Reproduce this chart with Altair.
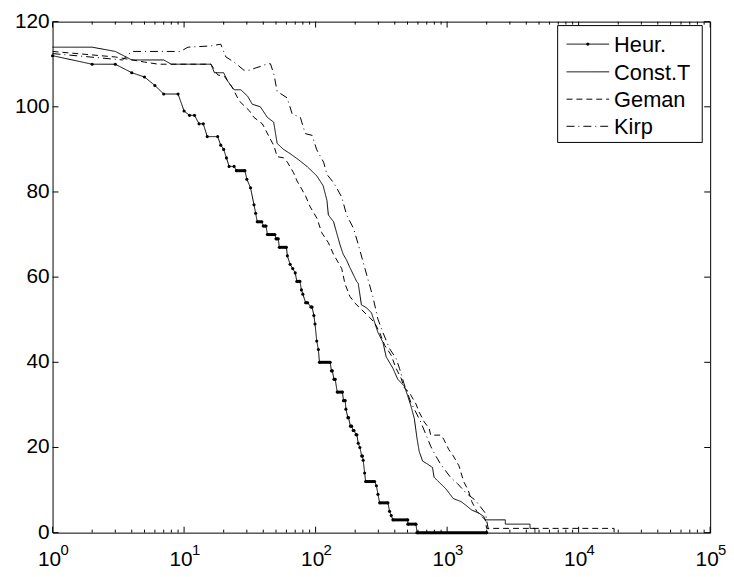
import altair as alt
import pandas as pd

# ---------------- data ----------------
series_names = ["Heur.", "Const.T", "Geman", "Kirp"]

# Heur.: runs of constant value (start time, end time, level)
heur_t0 = [1, 2, 4, 5, 6, 7, 10, 11, 13, 15, 19, 20, 21, 22, 25, 30, 32, 34, 35, 36,
           40, 43, 50, 53, 61, 64, 67, 70, 72, 78, 80, 84, 92, 97, 99, 102, 105, 107, 132, 138,
           146, 163, 170, 176, 184, 193, 203, 211, 217, 224, 230, 236, 240, 290, 298, 307, 365, 376, 387, 503,
           590]
heur_t1 = [1, 3, 4, 5, 6, 9, 10, 12, 14, 18, 19, 20, 21, 24, 29, 30, 32, 34, 35, 39,
           42, 49, 52, 60, 61, 64, 67, 70, 76, 78, 80, 87, 94, 97, 99, 102, 105, 129, 134, 141,
           160, 168, 170, 178, 188, 196, 206, 211, 217, 227, 230, 236, 281, 290, 298, 355, 365, 376, 502, 580,
           2000]
heur_y = [112, 110, 108, 107, 105, 103, 99, 98, 96, 93, 91, 90, 88, 86, 85, 83, 81, 77, 75, 73,
          72, 70, 69, 67, 65, 63, 62, 61, 59, 57, 56, 54, 53, 51, 49, 45, 43, 40, 38, 36,
          33, 31, 29, 27, 25, 24, 23, 21, 20, 18, 17, 14, 12, 11, 9, 7, 5, 4, 3, 2,
          0]

const_t = [1, 2, 3, 4, 7, 8, 16, 17, 20, 21.5, 24, 27, 30.4, 33, 38, 43, 48, 51, 57, 64,
           74, 86, 102, 114, 122, 125, 137, 153, 162, 172, 182, 205, 211, 223, 244, 266, 298, 325, 344, 387,
           422, 473, 502, 530, 563, 590, 613, 651, 710, 774, 796, 892, 977, 1115, 1275, 1380, 1540, 1740, 1900, 1950,
           2770, 2770, 4270, 4270, 4650, 4650]
const_y = [114, 114, 113, 111, 111, 110, 110, 108, 108, 106, 104, 104, 102.5, 100.6, 100, 97.5, 96.4, 91.4, 90, 89,
           87.6, 86, 83.8, 81.5, 78, 74.6, 73, 67.7, 65.4, 64, 62.3, 59, 58.5, 53.5, 52.8, 51.6, 47, 44.7, 41.3, 38.6,
           36, 34.4, 32.1, 29.8, 26.8, 22.2, 19.1, 16.8, 16.1, 15.3, 13, 11.5, 10.3, 8, 7.3, 6.5, 5.3, 4.6, 3.8, 3,
           3, 2, 2, 1, 1, 0]

geman_t = [1, 3, 5, 6.4, 16, 18, 20.3, 23.4, 26.2, 31.3, 34, 39.4, 44.4, 48.3, 51, 57.2, 61, 68, 72.2, 83.5,
           91, 102.4, 111.5, 125, 136.6, 158, 167, 182, 199, 258, 281, 307, 335, 375, 409, 446, 473, 516, 580, 613,
           670, 730, 750, 900, 947, 1030, 1115, 1230, 1340, 1450, 1540, 1680, 1950, 1995, 18600, 18600]
geman_y = [113, 111.7, 110.5, 110, 110, 107.5, 107.1, 104.4, 101.4, 99.1, 97.5, 96, 92.9, 90.8, 88.3, 88, 87, 84.5, 82.6, 79.2,
           76.5, 73.8, 70.4, 68.1, 65.4, 62, 58.5, 55.5, 53.9, 50.5, 49.3, 47, 44, 41.7, 38.6, 36.3, 34, 32.9, 30.2, 28.3,
           26, 24.5, 22.9, 22.9, 21.8, 19.5, 18, 15.7, 11.9, 9.9, 7.3, 5, 3, 1, 1, 0]

kirp_t = [1, 3.4, 4, 9.4, 10.7, 16, 19, 20.8, 24, 28.5, 32.2, 34, 38.3, 43, 45.4, 48.3, 51, 60.8, 66.4, 76.6,
          83.5, 94, 102, 115, 122, 137, 158, 172, 194, 211, 230, 251, 272, 298, 325, 365, 409, 434, 470, 530,
          630, 750, 820, 892, 1060, 1200, 1405, 1640, 1790, 1950, 1995, 2050, 2100]
kirp_y = [112.5, 111, 113, 113, 114, 114.3, 114.7, 111.7, 110.5, 108.6, 108.6, 109, 109.5, 110.1, 110.1, 107.5, 103.6, 102.1, 98.3, 97.5,
          93.7, 93.3, 89.9, 87, 84.1, 82.2, 78.8, 74.6, 71.5, 67.7, 63.5, 59.3, 55.5, 50.1, 47, 43.2, 40.9, 38.6, 35, 30.6,
          26, 20.3, 18, 16.1, 13, 11.5, 9.2, 7.6, 6.1, 4.6, 3, 1, 0]

y_ticks = [0, 20, 40, 60, 80, 100, 120]
y_labels = ["0", "20", "40", "60", "80", "100", "120"]
x_major = [1, 10, 100, 1000, 10000, 100000]
x_exp = ["0", "1", "2", "3", "4", "5"]
x_minor = [m * 10 ** d for d in range(5) for m in range(2, 10)]

# ---------------- build tables ----------------
W, H = 664, 516
TOP = 11
FONT = "Liberation Sans"

heur_vx, heur_vy = [], []
for a, b, v in zip(heur_t0, heur_t1, heur_y):
    heur_vx.append(a); heur_vy.append(v)
    if b > a:
        heur_vx.append(b); heur_vy.append(v)

frames = []
for name, xs_, ys_ in [("Heur.", heur_vx, heur_vy), ("Const.T", const_t, const_y),
                       ("Geman", geman_t, geman_y), ("Kirp", kirp_t, kirp_y)]:
    frames.append(pd.DataFrame({"series": name, "t": xs_, "y": ys_, "i": range(len(xs_))}))
line_df = pd.concat(frames, ignore_index=True)

dots_df = pd.DataFrame({"t": heur_vx, "y": heur_vy})
runs_df = pd.DataFrame({"t0": heur_t0, "t1": heur_t1, "y": heur_y})
runs_df = runs_df[(runs_df.t0 >= 25) & (runs_df.t1 > runs_df.t0)]

xs = alt.Scale(type="log", domain=[1, 100000], nice=False)
ys = alt.Scale(domain=[0, 120], nice=False)

dash_range = [[1, 0], [1, 0], [6, 4], [8, 4, 1, 4]]

lines = alt.Chart(line_df).mark_line(color="black", strokeWidth=1).encode(
    x=alt.X("t:Q", scale=xs, axis=None),
    y=alt.Y("y:Q", scale=ys, axis=None),
    strokeDash=alt.StrokeDash("series:N", scale=alt.Scale(domain=series_names, range=dash_range), legend=None),
    detail="series:N",
    order="i:Q",
)

runs = alt.Chart(runs_df).mark_rule(color="black", strokeWidth=3).encode(
    x=alt.X("t0:Q", scale=xs, axis=None), x2="t1:Q",
    y=alt.Y("y:Q", scale=ys, axis=None),
)

dots = alt.Chart(dots_df).mark_circle(color="black", size=10, opacity=1).encode(
    x=alt.X("t:Q", scale=xs, axis=None),
    y=alt.Y("y:Q", scale=ys, axis=None),
)

ytk = pd.DataFrame({"v": y_ticks, "lab": y_labels})
xmaj = pd.DataFrame({"v": x_major, "base": ["10"] * len(x_major), "e": x_exp})
xmin = pd.DataFrame({"v": x_minor})

tick_layers = [
    alt.Chart(ytk).mark_rule(color="black").encode(y=alt.Y("v:Q", scale=ys, axis=None), x=alt.value(0), x2=alt.value(6)),
    alt.Chart(ytk).mark_rule(color="black").encode(y=alt.Y("v:Q", scale=ys, axis=None), x=alt.value(W - 6), x2=alt.value(W)),
    alt.Chart(xmaj).mark_rule(color="black").encode(x=alt.X("v:Q", scale=xs, axis=None), y=alt.value(H), y2=alt.value(H - 6)),
    alt.Chart(xmaj).mark_rule(color="black").encode(x=alt.X("v:Q", scale=xs, axis=None), y=alt.value(0), y2=alt.value(6)),
    alt.Chart(xmin).mark_rule(color="black").encode(x=alt.X("v:Q", scale=xs, axis=None), y=alt.value(H), y2=alt.value(H - 3)),
    alt.Chart(xmin).mark_rule(color="black").encode(x=alt.X("v:Q", scale=xs, axis=None), y=alt.value(0), y2=alt.value(3)),
]

ylab = alt.Chart(ytk).mark_text(align="right", baseline="middle", fontSize=21, font=FONT,
                                color="black").encode(
    y=alt.Y("v:Q", scale=ys, axis=None), x=alt.value(-3), text="lab:N")
xbase = alt.Chart(xmaj).mark_text(align="center", baseline="alphabetic", fontSize=21, font=FONT,
                                  color="black", dx=-3).encode(
    x=alt.X("v:Q", scale=xs, axis=None), y=alt.value(H + 34), text="base:N")
xexp = alt.Chart(xmaj).mark_text(align="left", baseline="alphabetic", fontSize=15, font=FONT,
                                 color="black", dx=8).encode(
    x=alt.X("v:Q", scale=xs, axis=None), y=alt.value(H + 23), text="e:N")

# legend box drawn by hand
one = pd.DataFrame({"k": [0]})
legend_layers = [
    alt.Chart(one).mark_rect(fill="white", stroke="black", strokeWidth=1).encode(
        x=alt.value(510), x2=alt.value(656), y=alt.value(4), y2=alt.value(122))
]
row_y = [22.7, 50.7, 78.3, 105.7]
for name, ry, dash in zip(series_names, row_y, dash_range):
    ldf = pd.DataFrame({"name": [name]})
    legend_layers.append(alt.Chart(ldf).mark_rule(color="black", strokeWidth=1, strokeDash=dash).encode(
        x=alt.value(519), x2=alt.value(562), y=alt.value(ry)))
    legend_layers.append(alt.Chart(ldf).mark_text(align="left", baseline="middle", fontSize=22, font=FONT,
                                                  color="black").encode(
        x=alt.value(567), y=alt.value(ry + 1), text="name:N"))
legend_layers.append(alt.Chart(one).mark_circle(color="black", size=10, opacity=1).encode(
    x=alt.value(540.5), y=alt.value(row_y[0])))

chart = alt.layer(lines, runs, dots, *tick_layers, ylab, xbase, xexp, *legend_layers).properties(
    width=W, height=H,
    autosize=alt.AutoSizeParams(type="none"),
    padding={"left": 45, "top": TOP, "right": 16, "bottom": 40},
).configure_view(stroke="black", strokeWidth=1).configure_axis(grid=False)

chart.save("out.html", embed_options={"renderer": "svg", "actions": False})
